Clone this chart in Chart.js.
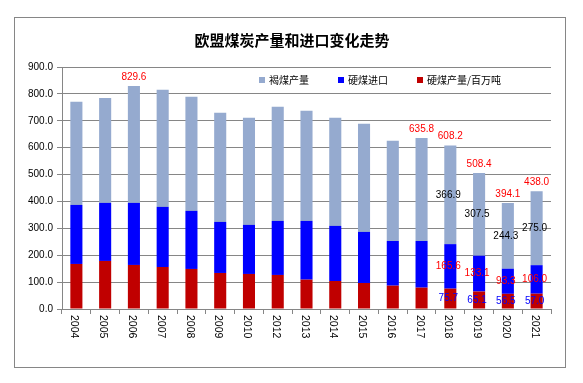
<!DOCTYPE html>
<html>
<head>
<meta charset="utf-8">
<script src="https://cdn.jsdelivr.net/npm/chart.js@4"></script>
<style>
  body { margin: 0; background: #fff; }
</style>
</head>
<body>
<canvas id="coal" width="583" height="383"></canvas>
<script>
// categories (no 2011 in the source)
var years = ['2004', '2005', '2006', '2007', '2008', '2009', '2010', '2012', '2013',
             '2014', '2015', '2016', '2017', '2018', '2019', '2020', '2021'];

// million tonnes, stacked bottom -> top
var hardCoalProd = [167.5, 178.7, 163.8, 156.3, 148.9, 134.0, 130.3, 126.6, 109.2,
                    104.2, 96.8, 86.8, 79.4, 75.7, 65.1, 56.5, 57.0];
var hardCoalImport = [219.5, 215.8, 230.7, 223.4, 215.9, 189.8, 182.4, 200.9, 218.3,
                      204.8, 189.8, 166.2, 173.6, 165.6, 133.1, 93.3, 106.0];
var lignite = [383.5, 390.5, 435.1, 435.3, 424.2, 405.7, 398.3, 424.5, 409.5,
               402.0, 402.0, 372.3, 382.8, 366.9, 307.5, 244.3, 275.0];

// totals printed above some bars, as written on the chart
var totalLabels = [null, null, 829.6, null, null, null, null, null, null,
                   null, null, null, 635.8, 608.2, 508.4, 394.1, 438.0];
// years whose segments carry value labels
var labelYears = ['2018', '2019', '2020', '2021'];

var yTicks = [0, 100, 200, 300, 400, 500, 600, 700, 800, 900];

var gray = '#868686';
var numFont = '10px "Liberation Sans"';
var cjkFont = '"Noto Sans CJK SC"';

var extras = {
  id: 'extras',
  beforeDraw: function (chart) {
    var ctx = chart.ctx;
    ctx.save();
    ctx.fillStyle = '#fff';
    ctx.fillRect(0, 0, chart.width, chart.height);
    ctx.strokeStyle = gray;
    ctx.lineWidth = 1;
    ctx.strokeRect(14.5, 17.5, 551, 350);
    ctx.restore();
  },
  afterDraw: function (chart) {
    var ctx = chart.ctx;
    var area = chart.chartArea;
    var xs = chart.scales.x;
    ctx.save();

    // title
    ctx.fillStyle = '#000';
    ctx.font = 'bold 15px ' + cjkFont;
    ctx.textAlign = 'center';
    ctx.textBaseline = 'middle';
    ctx.fillText('欧盟煤炭产量和进口变化走势', 292, 40);

    // x labels, rotated clockwise
    ctx.font = '10.5px "Liberation Sans"';
    years.forEach(function (y, i) {
      var px = xs.getPixelForValue(i);
      ctx.save();
      ctx.translate(px - 2, area.bottom + 6);
      ctx.rotate(Math.PI / 2);
      ctx.textAlign = 'left';
      ctx.textBaseline = 'middle';
      ctx.fillText(y, 0, 0);
      ctx.restore();
    });

    // legend (top stack first)
    var items = [2, 1, 0];
    var lx = [area.left + 197, area.left + 276, area.left + 355];
    ctx.font = '10px ' + cjkFont;
    ctx.textAlign = 'left';
    ctx.textBaseline = 'middle';
    items.forEach(function (d, k) {
      var ds = chart.data.datasets[d];
      ctx.fillStyle = ds.backgroundColor;
      ctx.fillRect(lx[k], area.top + 10, 6, 6);
      ctx.fillStyle = '#000';
      ctx.fillText(ds.label, lx[k] + 10, area.top + 13.5);
    });

    // segment value labels
    var labelColors = ['#0000ff', '#ff0000', '#000000'];
    ctx.font = numFont;
    ctx.textAlign = 'center';
    chart.data.datasets.forEach(function (ds, d) {
      var meta = chart.getDatasetMeta(d);
      ctx.fillStyle = labelColors[d];
      meta.data.forEach(function (bar, i) {
        if (labelYears.indexOf(years[i]) < 0) return;
        var mid = (bar.y + bar.base) / 2;
        ctx.fillText(ds.data[i].toFixed(1), bar.x - 2, mid);
      });
    });

    // totals
    var top = chart.getDatasetMeta(2);
    ctx.fillStyle = '#ff0000';
    totalLabels.forEach(function (t, i) {
      if (t === null) return;
      var bar = top.data[i];
      ctx.fillText(t.toFixed(1), bar.x, bar.y - 9);
    });

    ctx.restore();
  }
};

var chart = new Chart(document.getElementById('coal'), {
  type: 'bar',
  data: {
    labels: years,
    datasets: [{
      label: '硬煤产量/百万吨',
      data: hardCoalProd,
      backgroundColor: '#c00000'
    }, {
      label: '硬煤进口',
      data: hardCoalImport,
      backgroundColor: '#0000ff'
    }, {
      label: '褐煤产量',
      data: lignite,
      backgroundColor: '#95aacf'
    }]
  },
  options: {
    responsive: false,
    animation: false,
    layout: { padding: { top: 67, right: 32, left: 0, bottom: 0 } },
    datasets: { bar: { categoryPercentage: 1, barPercentage: 0.42 } },
    plugins: {
      legend: { display: false },
      title: { display: false },
      tooltip: { enabled: false }
    },
    scales: {
      x: {
        stacked: true,
        afterFit: function (s) { s.height = 74; },
        ticks: { display: false },
        grid: { drawOnChartArea: false, drawTicks: true, tickLength: 5, color: gray },
        border: { color: gray }
      },
      y: {
        stacked: true,
        min: yTicks[0],
        max: yTicks[yTicks.length - 1],
        afterFit: function (s) { s.width = 62; },
        afterBuildTicks: function (s) {
          s.ticks = yTicks.map(function (v) { return { value: v }; });
        },
        ticks: {
          font: { family: 'Liberation Sans', size: 10 },
          color: '#000',
          padding: 4,
          callback: function (v) { return v.toFixed(1); }
        },
        grid: { color: gray, tickLength: 5 },
        border: { color: gray }
      }
    }
  },
  plugins: [extras]
});
</script>
</body>
</html>
